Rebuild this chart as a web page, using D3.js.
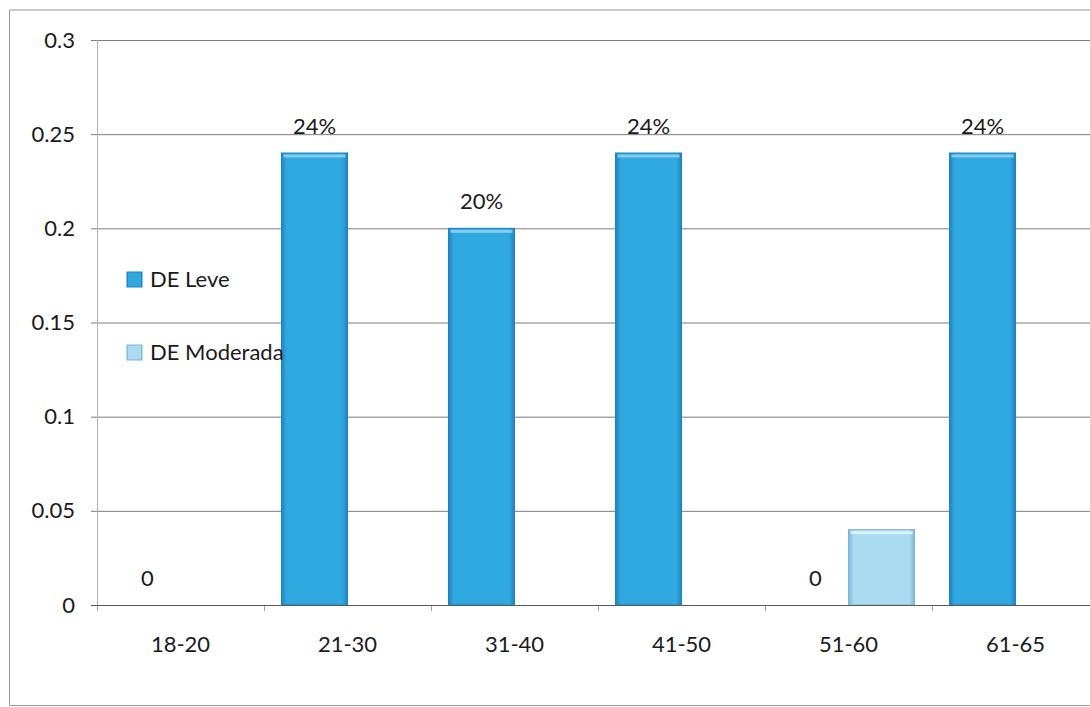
<!DOCTYPE html>
<html>
<head>
<meta charset="utf-8">
<script src="https://cdn.jsdelivr.net/npm/d3@7"></script>
<style>
  html, body { margin: 0; padding: 0; background: #fff; }
  svg { display: block; }
  text { font-family: Lato, "Open Sans", sans-serif; fill: #1a1a1a; }
</style>
</head>
<body>
<svg id="chart" width="1090" height="707"></svg>
<script>
// Age groups on the category axis
const categories = ["18-20", "21-30", "31-40", "41-50", "51-60", "61-65"];
// Series names
const seriesNames = ["DE Leve", "DE Moderada"];
// Share of each age group per series (null = no bar)
const leve = [0, 0.24, 0.20, 0.24, 0, 0.24];
const moderada = [null, null, null, null, 0.04, null];
// Value labels printed above the DE Leve bars
const leveLabels = ["0", "24%", "20%", "24%", "0", "24%"];
// Y axis ticks
const yTicks = [0, 0.05, 0.1, 0.15, 0.2, 0.25, 0.3];
const yTickLabels = ["0", "0.05", "0.1", "0.15", "0.2", "0.25", "0.3"];

const colors = {
  "DE Leve": { fill: "#30a8e0", edge: "#1c84c2", light: "#8fd3f3" },
  "DE Moderada": { fill: "#a9dbf1", edge: "#7db5d6", light: "#e3f5fc" }
};

const svg = d3.select("#chart");
const plot = { left: 97, right: 1099, top: 40, bottom: 605 };

const x0 = d3.scaleBand().domain(categories).range([plot.left, plot.right]).padding(0);
const x1 = d3.scaleBand().domain(seriesNames).range([0, x0.bandwidth()]).paddingInner(0).paddingOuter(0.265);
const y = d3.scaleLinear().domain([0, 0.3]).range([plot.bottom, plot.top]);

// Gradients giving the bars a slight bevel
const defs = svg.append("defs");
seriesNames.forEach((s, i) => {
  const c = colors[s];
  const g = defs.append("linearGradient").attr("id", "grad" + i)
    .attr("x1", 0).attr("x2", 1).attr("y1", 0).attr("y2", 0);
  g.append("stop").attr("offset", "0%").attr("stop-color", c.edge);
  g.append("stop").attr("offset", "8%").attr("stop-color", c.fill);
  g.append("stop").attr("offset", "92%").attr("stop-color", c.fill);
  g.append("stop").attr("offset", "100%").attr("stop-color", c.edge);
});

// Outer chart border (right edge runs past the page)
svg.append("path")
  .attr("d", `M1095,10 H9.5 V705.5 H1095`)
  .attr("fill", "none").attr("stroke", "#9a9a9a").attr("stroke-width", 1);

// Horizontal gridlines via the y axis
const yAxis = d3.axisLeft(y).tickValues(yTicks)
  .tickFormat((d, i) => yTickLabels[i])
  .tickSize(-(plot.right - plot.left)).tickPadding(17);
const gy = svg.append("g").attr("transform", `translate(${plot.left},0)`).call(yAxis);
gy.select(".domain").remove();
gy.selectAll(".tick line").attr("stroke", "#7c7c7c").attr("stroke-width", 1)
  .attr("x1", -6);
gy.selectAll(".tick text").attr("font-size", 22).attr("fill", "#1a1a1a").attr("x", -22);

// Vertical value axis line
svg.append("line")
  .attr("x1", plot.left + 0.5).attr("x2", plot.left + 0.5)
  .attr("y1", plot.top).attr("y2", plot.bottom)
  .attr("stroke", "#b4b4b4");

// Category axis
const xAxis = d3.axisBottom(x0).tickSize(0).tickPadding(31);
const gx = svg.append("g").attr("transform", `translate(0,${plot.bottom})`).call(xAxis);
gx.select(".domain").remove();
gx.selectAll(".tick text").attr("font-size", 22).attr("fill", "#1a1a1a");

// Tick marks between categories
const boundaries = categories.map(c => x0(c)).concat([plot.right]);
svg.append("g").selectAll("line").data(boundaries).join("line")
  .attr("x1", d => Math.round(d) + 0.5).attr("x2", d => Math.round(d) + 0.5)
  .attr("y1", plot.bottom).attr("y2", plot.bottom + 6)
  .attr("stroke", "#a0a0a0");

// Bars
const seriesData = [leve, moderada];
seriesNames.forEach((s, i) => {
  const rows = categories.map((c, j) => ({ c, v: seriesData[i][j] }))
    .filter(d => d.v !== null && d.v > 0);
  const g = svg.append("g");
  g.selectAll("rect.bar").data(rows).join("rect")
    .attr("class", "bar")
    .attr("x", d => x0(d.c) + x1(s))
    .attr("width", x1.bandwidth())
    .attr("y", d => y(d.v))
    .attr("height", d => y(0) - y(d.v))
    .attr("fill", `url(#grad${i})`)
    .attr("stroke", colors[s].edge).attr("stroke-width", 1);
  // light top rim
  g.selectAll("rect.rim").data(rows).join("rect")
    .attr("class", "rim")
    .attr("x", d => x0(d.c) + x1(s) + 2)
    .attr("width", x1.bandwidth() - 4)
    .attr("y", d => y(d.v) + 1.5)
    .attr("height", 3)
    .attr("fill", colors[s].light).attr("opacity", 0.85);
});

// Baseline
svg.append("line")
  .attr("x1", plot.left - 6).attr("x2", plot.right)
  .attr("y1", plot.bottom + 0.5).attr("y2", plot.bottom + 0.5)
  .attr("stroke", "#5a5a5a");

// Value labels for DE Leve
svg.append("g").selectAll("text").data(categories).join("text")
  .attr("x", c => x0(c) + x1("DE Leve") + x1.bandwidth() / 2)
  .attr("y", (c, j) => y(leve[j]) - 19)
  .attr("text-anchor", "middle")
  .attr("font-size", 22)
  .text((c, j) => leveLabels[j]);

// Legend
const legendRows = [
  { name: "DE Leve", y: 287 },
  { name: "DE Moderada", y: 360 }
];
const lg = svg.append("g");
legendRows.forEach((r, i) => {
  lg.append("rect")
    .attr("x", 127).attr("y", r.y - 15)
    .attr("width", 15).attr("height", 15)
    .attr("fill", `url(#grad${i})`)
    .attr("stroke", colors[r.name].edge);
  lg.append("text")
    .attr("x", 150).attr("y", r.y)
    .attr("font-size", 22)
    .text(r.name);
});
</script>
</body>
</html>
